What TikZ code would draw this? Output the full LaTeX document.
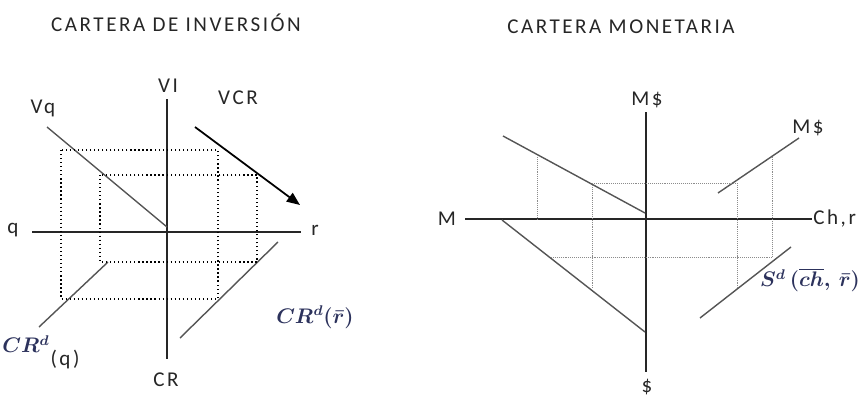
\documentclass[tikz,border=0pt]{standalone}
\usepackage{amsmath}
\usepackage{fontspec}
\usepackage{xcolor}
\usetikzlibrary{positioning, arrows.meta}
\setmainfont{Carlito}
\newfontfamily\spacedfont[LetterSpace=12]{Carlito}
\definecolor{mathNavy}{RGB}{44, 50, 92}
\definecolor{lineGray}{RGB}{85, 85, 85}

\begin{document}
\begin{tikzpicture}[
    x=0.02cm, y=-0.02cm,
    font=\spacedfont\fontsize{12}{14}\selectfont,
    lbl/.style={inner sep=0pt, text=black!85},
    mlbl/.style={inner sep=0pt, text=mathNavy, font=\fontsize{12}{14}\selectfont},
    axis/.style={line width=1pt, black!85},
    curve/.style={line width=0.8pt, lineGray},
    guide/.style={line width=0.8pt, dash pattern=on 0.7pt off 1.6pt, black},
    fineguide/.style={line width=0.5pt, dash pattern=on 0.5pt off 0.6pt, black!45},
    arr/.style={-{Triangle[length=7.5pt, width=6pt]}, line width=1pt, black}
]
\useasboundingbox (0,0) rectangle (863,399);

% cartera de inversion
\node[lbl] (t1) at (176,23) {CARTERA DE INVERSIÓN};
\node[lbl] (vi)  at (168,86)  {VI};
\node[lbl] (cr)  at (166,380) {CR};
\node[lbl] (q)   at (13,230)  {q};
\node[lbl] (r)   at (315,230) {r};
\node[lbl] (vq)  at (43,108)  {Vq};
\node[lbl] (vcr) at (238,98)  {VCR};
\node[mlbl] (crdq) at (26,344) {$\boldsymbol{CR^{d}}$};
\node[lbl] (crdqarg) at (65,359) {(q)};
\node[mlbl] (crdr) at (315,317) {$\boldsymbol{CR^{d}(\bar{r})}$};

\coordinate (viT) at (167,99);   \coordinate (viB) at (167,359);
\coordinate (hL)  at (32,232);   \coordinate (hR)  at (301,232);
\coordinate (vqA) at (47,127);   \coordinate (vqB) at (167,227);
\coordinate (vcrA) at (195,127); \coordinate (vcrB) at (300,205);
\coordinate (cqA) at (39,327);   \coordinate (cqB) at (108,262);
\coordinate (crA) at (180,338);  \coordinate (crB) at (278,242);

\draw[axis] (viT) -- (viB);
\draw[axis] (hL) -- (hR);
\draw[curve] (vqA) -- (vqB);
\draw[curve] (cqA) -- (cqB);
\draw[curve] (crA) -- (crB);
\draw[arr] (vcrA) -- (vcrB);

\draw[guide] (61,150) rectangle (218,299);
\draw[guide] (100,175) rectangle (257,262);

% cartera monetaria
\node[lbl] (t2) at (621,27) {CARTERA MONETARIA};
\node[lbl] (mt)  at (647,100) {M\$};
\node[lbl] (db)  at (647,387) {\$};
\node[lbl] (m)   at (447,219) {M};
\node[lbl, anchor=west] (chr) at (813,219) {Ch,r};
\node[lbl] (mr)  at (808,128) {M\$};
\node[mlbl] (sd) at (810,280) {$\boldsymbol{S^{d}\,(\overline{ch},\,\bar{r})}$};

\coordinate (mT) at (646,112);  \coordinate (mB) at (646,372);
\coordinate (mL) at (465,219);  \coordinate (mR) at (812,219);
\coordinate (ulA) at (503,136); \coordinate (ulB) at (645,213);
\coordinate (llA) at (502,220); \coordinate (llB) at (645,332);
\coordinate (urA) at (718,193); \coordinate (urB) at (799,138);
\coordinate (lrA) at (700,318); \coordinate (lrB) at (791,247);

\draw[axis] (mT) -- (mB);
\draw[axis] (mL) -- (mR);
\draw[curve] (ulA) -- (ulB);
\draw[curve] (llA) -- (llB);
\draw[curve] (urA) -- (urB);
\draw[curve] (lrA) -- (lrB);

\draw[fineguide] (537,157) -- (537,219);
\draw[fineguide] (592,183) -- (737,183);
\draw[fineguide] (592,183) -- (592,288);
\draw[fineguide] (737,183) -- (737,288);
\draw[fineguide] (772,157) -- (772,257);
\draw[fineguide] (551,257) -- (772,257);
\end{tikzpicture}
\end{document}
